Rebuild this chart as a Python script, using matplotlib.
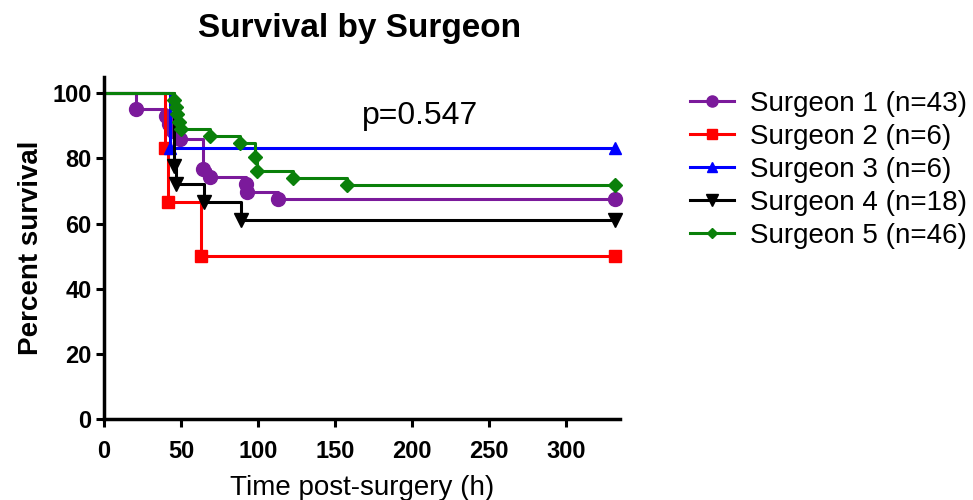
import matplotlib
matplotlib.use('Agg')
import matplotlib.pyplot as plt

plt.rcParams['font.family'] = ['Liberation Sans', 'DejaVu Sans']

# Kaplan-Meier steps (time in h, percent survival after each drop)
end_time = 332
labels = ['Surgeon 1 (n=43)', 'Surgeon 2 (n=6)', 'Surgeon 3 (n=6)',
          'Surgeon 4 (n=18)', 'Surgeon 5 (n=46)']
s1_t = [21, 40.5, 42, 45, 49, 64.5, 69, 92, 93, 113]
s1_s = [95.3, 93.0, 90.7, 88.4, 86.0, 76.7, 74.4, 72.1, 69.8, 67.4]
s2_t = [39.5, 41.5, 63]
s2_s = [83.3, 66.7, 50.0]
s3_t = [42.5]
s3_s = [83.3]
s4_t = [45.5, 47, 65, 89]
s4_s = [77.8, 72.2, 66.7, 61.1]
s5_t = [45.5, 46.5, 47.5, 48.5, 50, 69, 88, 98, 99, 123, 158]
s5_s = [97.8, 95.7, 93.5, 91.3, 89.1, 87.0, 84.8, 80.4, 76.1, 73.9, 71.7]
p_text = 'p=0.547'

series = [(s1_t, s1_s), (s2_t, s2_s), (s3_t, s3_s), (s4_t, s4_s), (s5_t, s5_s)]
colors = ['#7B1A9B', '#FF0000', '#0000FF', '#000000', '#0A800A']
markers = ['o', 's', '^', 'v', 'D']
msizes = [10, 9, 9, 10, 7]

fig = plt.figure(figsize=(9.73, 5), dpi=100)
ax = fig.add_axes([0.107, 0.162, 0.53, 0.684])

for (t, s), c, m, ms, lab in zip(series, colors, markers, msizes, labels):
    tt = [0] + t + [end_time]
    ss = [100] + s + [s[-1]]
    ax.plot(tt, ss, drawstyle='steps-post', color=c, lw=2.2, marker=m,
            markersize=ms, markevery=slice(1, None), clip_on=False, label=lab)

ax.set_xlim(0, 335)
ax.set_ylim(0, 105)
ax.set_xticks(range(0, 301, 50))
ax.set_yticks(range(0, 101, 20))
for sp in ['top', 'right']:
    ax.spines[sp].set_visible(False)
for sp in ['left', 'bottom']:
    ax.spines[sp].set_linewidth(2.5)
ax.tick_params(width=2.2, length=6, labelsize=17)
ax.tick_params(axis='x', pad=9)
ax.tick_params(axis='y', pad=3)
for lbl in ax.get_xticklabels() + ax.get_yticklabels():
    lbl.set_fontweight('bold')

ax.set_xlabel('Time post-surgery (h)', fontsize=20, labelpad=9)
ax.set_ylabel('Percent survival', fontsize=20, fontweight='bold', labelpad=6)
fig.text(0.37, 0.943, 'Survival by Surgeon', fontsize=24, fontweight='bold',
         ha='center', va='center')
ax.text(205, 93, p_text, fontsize=23, ha='center', va='center')

ax.legend(loc='upper left', bbox_to_anchor=(0.709, 0.818),
          bbox_transform=fig.transFigure, frameon=False, fontsize=20,
          handlelength=1.6, handletextpad=0.55, labelspacing=0.25,
          borderaxespad=0, borderpad=0, markerscale=0.8)

fig.savefig('out.png', dpi=100)
